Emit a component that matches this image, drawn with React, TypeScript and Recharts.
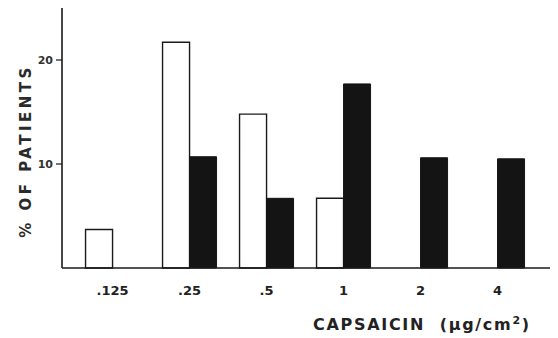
import React from "react";
import { BarChart, Bar, XAxis, YAxis, Label } from "recharts";

const categories = [".125", ".25", ".5", "1", "2", "4"];
const openBars = [3.7, 21.7, 14.8, 6.7, 0, 0];
const solidBars = [0, 10.7, 6.7, 17.7, 10.6, 10.5];
const yTicks = [10, 20];

const data = categories.map((dose, i) => ({
  dose,
  open: openBars[i],
  solid: solidBars[i],
}));

const FONT = "'DejaVu Sans', Verdana, sans-serif";

export default function App() {
  return (
    <div style={{ position: "absolute", left: 0, top: 0, background: "#fff" }}>
      <BarChart
        width={558}
        height={338}
        data={data}
        margin={{ top: 8, right: 8, bottom: 0, left: 0 }}
        barGap={0}
        barCategoryGap="15%"
      >
        <XAxis
          dataKey="dose"
          height={70}
          padding={{ left: 12, right: 14 }}
          axisLine={{ stroke: "#1a1a1a", strokeWidth: 1.6 }}
          tickLine={false}
          tickSize={0}
          tickMargin={18}
          tick={{ fontSize: 13, fontWeight: "bold", fill: "#222", fontFamily: FONT }}
        >
          <Label
            content={() => (
              <text
                x={313}
                y={330}
                fontSize={16}
                fontWeight="bold"
                fill="#222"
                fontFamily={FONT}
                letterSpacing={1.7}
              >
                CAPSAICIN{"\u00a0\u00a0"}(µg/cm
                <tspan fontSize={11} dy={-6}>2</tspan>
                <tspan dy={6}>)</tspan>
              </text>
            )}
          />
        </XAxis>
        <YAxis
          width={62}
          domain={[0, 25]}
          ticks={yTicks}
          axisLine={{ stroke: "#1a1a1a", strokeWidth: 1.6 }}
          tickLine={{ stroke: "#1a1a1a", strokeWidth: 1.2 }}
          tickSize={6}
          tickMargin={3}
          tick={{ fontSize: 11, fontWeight: "bold", fill: "#333", fontFamily: FONT }}
        >
          <Label
            content={() => (
              <text
                x={31}
                y={151}
                transform="rotate(-90 31 151)"
                textAnchor="middle"
                fontSize={15}
                fontWeight="bold"
                fill="#2a2a2a"
                fontFamily={FONT}
                letterSpacing={3.5}
              >
                % OF PATIENTS
              </text>
            )}
          />
        </YAxis>
        <Bar
          dataKey="open"
          fill="#ffffff"
          stroke="#1a1a1a"
          strokeWidth={1.4}
          isAnimationActive={false}
        />
        <Bar
          dataKey="solid"
          fill="#141414"
          stroke="#141414"
          strokeWidth={1}
          isAnimationActive={false}
        />
      </BarChart>
    </div>
  );
}
